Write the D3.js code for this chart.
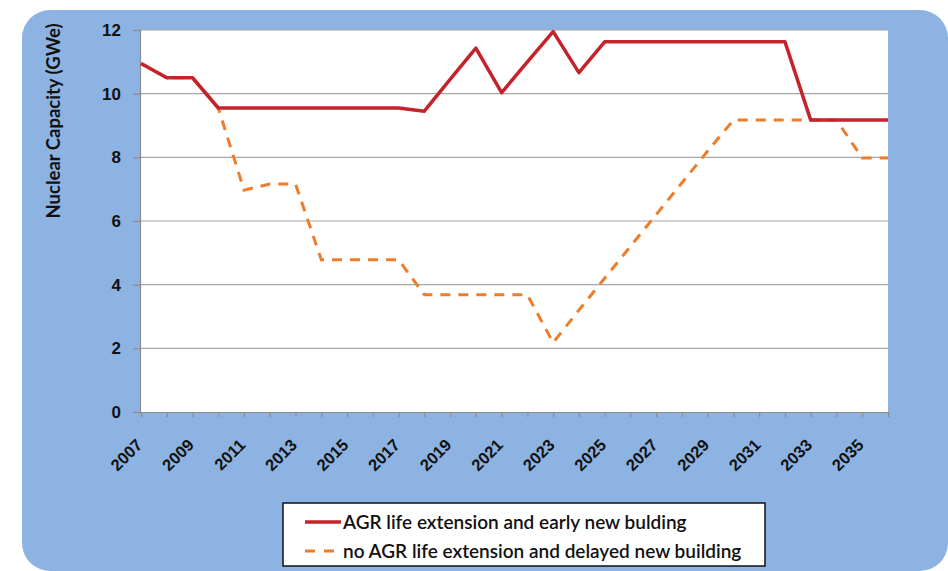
<!DOCTYPE html>
<html>
<head>
<meta charset="utf-8">
<script src="https://cdn.jsdelivr.net/npm/d3@7"></script>
<style>
  body { margin: 0; background: #ffffff; }
  svg { display: block; font-family: Lato, "Open Sans", sans-serif; }
</style>
</head>
<body>
<svg id="chart" width="948" height="571"></svg>
<script>
// data
const years = d3.range(2007, 2037);
const tickYears = [2007, 2009, 2011, 2013, 2015, 2017, 2019, 2021, 2023, 2025, 2027, 2029, 2031, 2033, 2035];
const yTicks = [0, 2, 4, 6, 8, 10, 12];

const earlyBuild = [10.95, 10.5, 10.5, 9.55, 9.55, 9.55, 9.55, 9.55, 9.55, 9.55, 9.55, 9.45,
  10.45, 11.43, 10.03, 11.0, 11.95, 10.66, 11.63, 11.63, 11.63, 11.63, 11.63, 11.63, 11.63,
  11.63, 9.17, 9.17, 9.17, 9.17];
const delayedBuild = [10.95, 10.5, 10.5, 9.55, 6.97, 7.16, 7.16, 4.78, 4.78, 4.78, 4.78, 3.68,
  3.68, 3.68, 3.68, 3.68, 2.18, 3.2, 4.2, 5.2, 6.2, 7.2, 8.2, 9.17, 9.17, 9.17, 9.17,
  9.17, 7.98, 7.98];

const seriesNames = ["AGR life extension and early new bulding",
                     "no AGR life extension and delayed new building"];

const svg = d3.select("#chart");

// blue panel
svg.append("rect")
  .attr("x", 22).attr("y", 10)
  .attr("width", 926).attr("height", 561)
  .attr("rx", 28).attr("ry", 28)
  .attr("fill", "#8db3e2");

const plotLeft = 140, plotRight = 888, plotTop = 30, plotBottom = 412;

const x = d3.scaleLinear().domain([2007, 2036]).range([plotLeft + 1, plotRight]);
const y = d3.scaleLinear().domain([0, 12]).range([plotBottom, plotTop]);

svg.append("rect")
  .attr("x", plotLeft).attr("y", plotTop)
  .attr("width", plotRight - plotLeft).attr("height", plotBottom - plotTop)
  .attr("fill", "#ffffff");

// gridlines
svg.append("g")
  .selectAll("line")
  .data(yTicks.filter(d => d > 0))
  .enter()
  .append("line")
  .attr("x1", plotLeft - 7).attr("x2", plotRight)
  .attr("y1", d => y(d)).attr("y2", d => y(d))
  .style("stroke", "#a6a6a6")
  .style("stroke-width", 1.2);

// y axis
const yAxis = svg.append("g")
  .attr("transform", "translate(" + plotLeft + ",0)")
  .call(d3.axisLeft(y).tickValues(yTicks).tickSize(7).tickPadding(12));
yAxis.select(".domain").style("stroke", "#8c8c8c").style("stroke-width", 1.2);
yAxis.selectAll(".tick line").style("stroke", "#8c8c8c").style("stroke-width", 1.2);
yAxis.selectAll("text")
  .style("font-size", "17px").style("font-weight", "bold").style("fill", "#111");

// x axis
const xAxis = svg.append("g")
  .attr("transform", "translate(0," + plotBottom + ")")
  .call(d3.axisBottom(x).tickValues(years).tickSize(5).tickFormat(d3.format("d")));
xAxis.select(".domain").style("stroke", "#8c8c8c").style("stroke-width", 1.2);
xAxis.selectAll(".tick line").style("stroke", "#8c8c8c").style("stroke-width", 1.2);
xAxis.selectAll(".tick text")
  .style("display", d => tickYears.includes(d) ? null : "none")
  .attr("text-anchor", "end")
  .attr("dy", null)
  .attr("y", 0)
  .attr("transform", "translate(2,34) rotate(-45)")
  .style("font-size", "16.5px").style("font-weight", "bold").style("fill", "#111");

// y axis title
svg.append("text")
  .attr("transform", "translate(60,121) rotate(-90)")
  .attr("text-anchor", "middle")
  .style("font-size", "18.5px")
  .style("font-weight", "bold")
  .style("fill", "#111")
  .text("Nuclear Capacity (GWe)");

const line = d3.line()
  .x((d, i) => x(years[i]))
  .y(d => y(d));

svg.append("path")
  .datum(delayedBuild)
  .attr("d", line)
  .attr("fill", "none")
  .style("stroke", "#ee7d2b")
  .style("stroke-width", 3)
  .style("stroke-dasharray", "10,8");

svg.append("path")
  .datum(earlyBuild)
  .attr("d", line)
  .attr("fill", "none")
  .style("stroke", "#c4232b")
  .style("stroke-width", 3.5)
  .style("stroke-linejoin", "round");

// legend
const legend = svg.append("g");
legend.append("rect")
  .attr("x", 283).attr("y", 503)
  .attr("width", 482).attr("height", 63)
  .attr("fill", "#ffffff")
  .style("stroke", "#111")
  .style("stroke-width", 1.5);

const legendRows = [
  { name: seriesNames[0], color: "#c4232b", dash: null, w: 3.5, x2: 341 },
  { name: seriesNames[1], color: "#ee7d2b", dash: "10,9", w: 3, x2: 335 }
];

legend.selectAll("g.row")
  .data(legendRows)
  .enter()
  .append("g")
  .attr("class", "row")
  .attr("transform", (d, i) => "translate(0," + (522 + i * 29) + ")")
  .each(function(d) {
    const g = d3.select(this);
    g.append("line")
      .attr("x1", 305).attr("x2", d.x2)
      .attr("y1", 0).attr("y2", 0)
      .style("stroke", d.color)
      .style("stroke-width", d.w)
      .style("stroke-dasharray", d.dash);
    g.append("text")
      .attr("x", 343).attr("y", 7)
      .style("font-size", "19px")
      .style("font-weight", "600")
      .style("fill", "#111")
      .text(d.name);
  });
</script>
</body>
</html>
